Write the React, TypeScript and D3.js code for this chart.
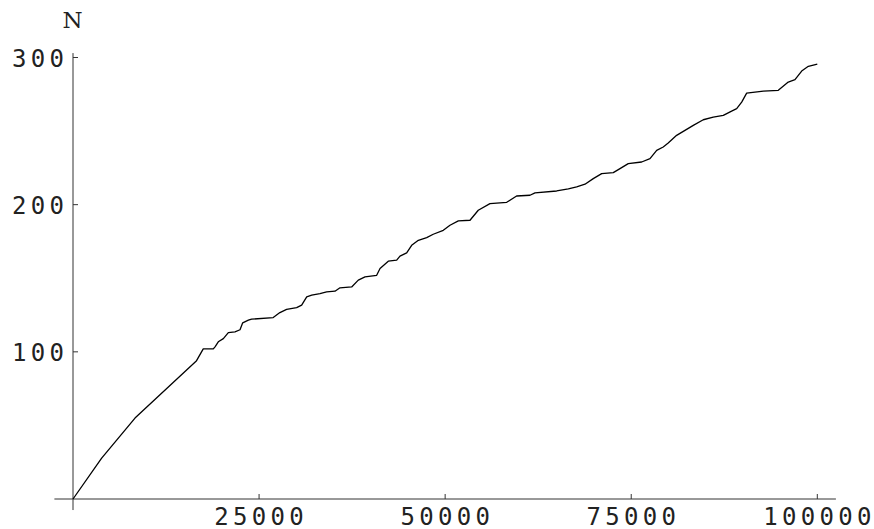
import React from 'react';
import * as d3 from 'd3';

// curve readings: sample index (x) and count N (y)
const xs = [
  0, 3850, 8330, 16600, 17500, 18850, 19080, 19520, 20200, 20870, 21760, 22440, 22800, 23560, 24000,
  26900, 27800, 28700, 30050, 30720, 31400, 32070, 33180, 34080, 35200, 35870, 37440, 38330, 39230,
  40800, 41250, 42360, 43490, 43930, 44830, 45500, 46400, 47520, 48400, 49750, 50650, 51770, 53340,
  54450, 56020, 58270, 59600, 61400, 62070, 64980, 66550, 67670, 68790, 69900, 71030, 72590, 73490,
  74600, 76400, 77520, 78420, 79300, 79970, 81100, 82220, 83340, 84680, 86020, 87370, 88490, 89170,
  89840, 90510, 92750, 94760, 96100, 97000, 97900, 98800, 100000,
];
const ns = [
  0, 27.8, 55, 94, 102, 102, 103.4, 106.8, 109, 113, 113.6, 115, 119.7, 121.5, 122.2,
  123.3, 126.7, 128.8, 130, 131.7, 137.3, 138.5, 139.6, 140.7, 141.2, 143.5, 144.1, 148.7, 150.9,
  152, 156.6, 161.6, 162.3, 165, 167.2, 172.4, 175.8, 177.6, 179.9, 182.6, 186, 189, 189.4,
  196.2, 200.7, 201.6, 205.9, 206.4, 208, 209.3, 210.7, 212.1, 213.9, 217.7, 221.1, 221.8, 224.5,
  227.9, 229, 231.3, 236.9, 239.2, 241.9, 247.1, 250.5, 253.9, 257.7, 259.5, 260.7, 263.6, 265.2,
  269.7, 275.8, 277.2, 277.7, 283.3, 284.9, 290.8, 294, 295.5,
];
const xTicks = [25000, 50000, 75000, 100000];
const yTicks = [100, 200, 300];

const W = 874;
const H = 529;
const numFont = '"DejaVu Sans Mono", monospace';
const spacing = 4.3;

// spaced label without trailing gap after last glyph
const Spaced = ({ s }: { s: string }) => (
  <>
    {s.slice(0, -1)}
    <tspan letterSpacing={0}>{s.slice(-1)}</tspan>
  </>
);

export default function App() {
  const x = d3.scaleLinear().domain([0, 100000]).range([73, 817.3]);
  const y = d3.scaleLinear().domain([0, 300]).range([499, 57.5]);

  const line = d3
    .line<number>()
    .x((_d, i) => x(xs[i]))
    .y(d => y(d));

  const axisColor = '#333';

  return (
    <div style={{ position: 'absolute', left: 0, top: 0 }}>
      <svg width={W} height={H} style={{ display: 'block', background: '#fff' }}>
        {/* axes */}
        <line x1={x(-2500)} x2={x(102500)} y1={y(0)} y2={y(0)} stroke={axisColor} strokeWidth={1} />
        <line x1={x(0)} x2={x(0)} y1={y(-7.5)} y2={y(303)} stroke={axisColor} strokeWidth={1} />

        {xTicks.map(t => (
          <g key={t}>
            <line x1={x(t)} x2={x(t)} y1={y(0)} y2={y(0) - 5} stroke={axisColor} strokeWidth={1} />
            <text
              x={x(t)}
              y={524.5}
              textAnchor="middle"
              fontFamily={numFont}
              fontSize={24}
              letterSpacing={spacing}
              fill="#222"
            >
              <Spaced s={String(t)} />
            </text>
          </g>
        ))}

        {yTicks.map(t => (
          <g key={t}>
            <line x1={x(0)} x2={x(0) + 5} y1={y(t)} y2={y(t)} stroke={axisColor} strokeWidth={1} />
            <text
              x={64}
              y={y(t) + 9.5}
              textAnchor="end"
              fontFamily={numFont}
              fontSize={24}
              letterSpacing={spacing}
              fill="#222"
            >
              <Spaced s={String(t)} />
            </text>
          </g>
        ))}

        <text x={72.5} y={28} textAnchor="middle" fontFamily='"DejaVu Serif", serif' fontSize={23} fill="#222">
          N
        </text>

        <path d={line(ns) ?? ''} fill="none" stroke="#000" strokeWidth={1.3} strokeLinejoin="round" />
      </svg>
    </div>
  );
}
